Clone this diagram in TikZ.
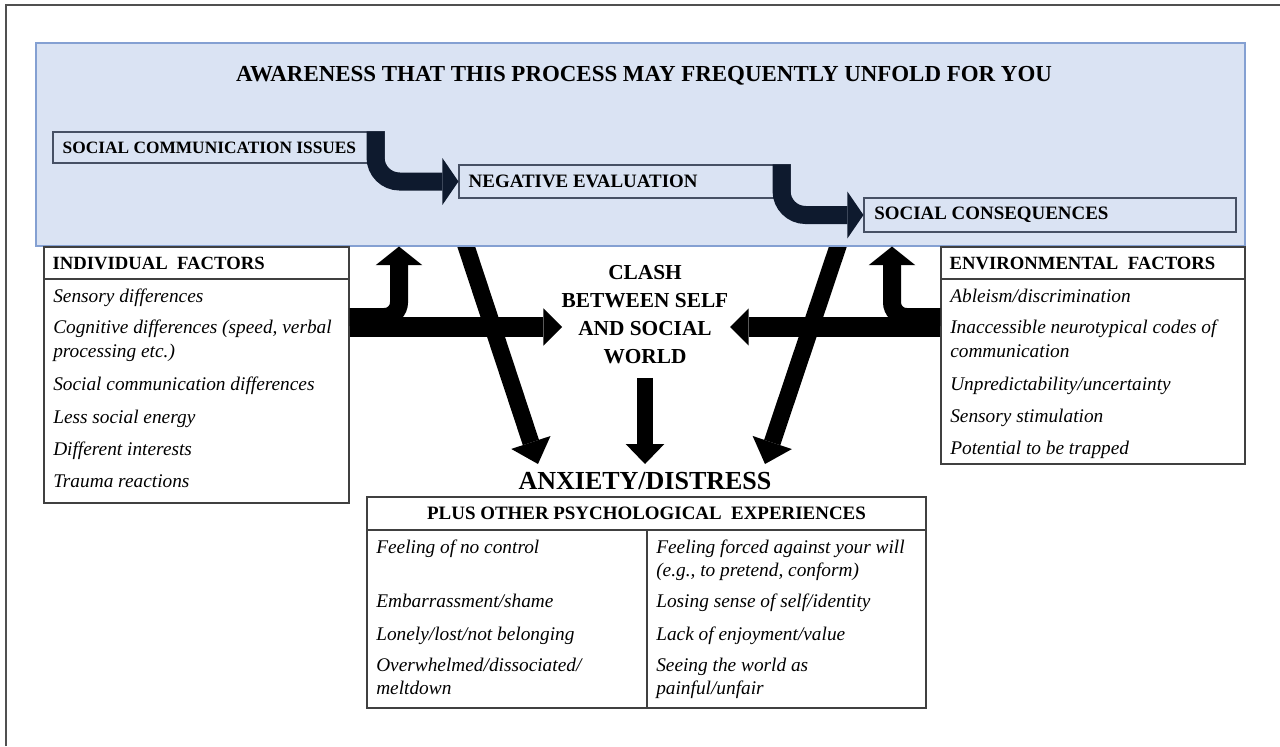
\documentclass[tikz,border=0pt]{standalone}
\usepackage{fontspec}
\setmainfont{Liberation Serif}
\usetikzlibrary{arrows.meta,fit,positioning}
\definecolor{awareblue}{RGB}{218,227,243}
\definecolor{awareline}{RGB}{132,160,210}
\definecolor{procline}{RGB}{70,80,100}
\definecolor{procnavy}{RGB}{14,26,46}
\definecolor{framegray}{RGB}{80,80,80}
\tikzset{
  awarebox/.style={draw=awareline,fill=awareblue,inner sep=0pt,line width=0.8pt},
  procbox/.style={draw=procline,fill=awareblue,inner sep=0pt,line width=0.8pt},
  listbox/.style={draw=black!75,fill=white,inner sep=0pt,line width=0.8pt},
  proclabel/.style={font=\fontsize{14.2}{16}\selectfont\bfseries,inner sep=0pt,anchor=west},
  caps/.style={font=\fontsize{14}{16}\selectfont\bfseries,inner sep=0pt},
  listitem/.style={font=\fontsize{14.5}{17}\selectfont\itshape,anchor=base west,inner sep=0pt},
  navyarrow/.style={procnavy,line width=13.5pt,rounded corners=18pt,
    -{Triangle[width=35pt,length=12pt,line width=0pt]}},
  mainarrow/.style={black,line width=15pt,-{Triangle[width=28pt,length=14pt,line width=0pt]}},
  brancharrow/.style={black,line width=13.5pt,rounded corners=11pt,
    -{Triangle[width=35pt,length=14pt,line width=0pt]}},
  diagarrow/.style={black,line width=12.75pt,-{Triangle[width=31pt,length=17pt,line width=0pt]}},
  downarrow/.style={black,line width=12.5pt,-{Triangle[width=29pt,length=15pt,line width=0pt]}}
}
\begin{document}
\begin{tikzpicture}[x=0.75pt,y=-0.75pt]
\useasboundingbox (0,0) rectangle (1280,746);
\draw[framegray,line width=1.5pt] (6,746) -- (6,5) -- (1280,5);
% the two long arrows start under the blue panel
\coordinate (evalfoot) at (462.7,236);
\coordinate (consfoot) at (841.4,236);
\coordinate (anxL) at (538,464);
\coordinate (anxR) at (765,464);
\draw[diagarrow] (evalfoot) -- (anxL);
\draw[diagarrow] (consfoot) -- (anxR);
% awareness panel
\node[awarebox,fit={(36,43) (1245,246)}] (aware) {};
\node[font=\fontsize{17.2}{20}\selectfont\bfseries] (title) at (644,76)
  {AWARENESS THAT THIS PROCESS MAY FREQUENTLY UNFOLD FOR YOU};
\node[procbox,fit={(53,132) (384,163)}] (sci) {};
\node[procbox,fit={(459,165) (790,198)}] (neg) {};
\node[procbox,fit={(864,198) (1236,232)}] (cons) {};
\node[proclabel,font=\fontsize{13}{15}\selectfont\bfseries] at ([xshift=7.5pt]sci.west) {SOCIAL COMMUNICATION ISSUES};
\node[proclabel] at ([xshift=7.5pt]neg.west) {NEGATIVE EVALUATION};
\node[proclabel] at ([xshift=8pt]cons.west) {SOCIAL CONSEQUENCES};
\draw[navyarrow] ([xshift=-6.75pt]sci.north east) |- (neg.west);
\draw[navyarrow] ([xshift=-6.75pt]neg.north east) |- (cons.west);
% factor boxes
\node[listbox,fit={(44,247) (349,279)}] (indhead) {};
\node[listbox,fit={(44,279) (349,503)}] (indbody) {};
\node[listbox,fit={(941,247) (1245,279)}] (envhead) {};
\node[listbox,fit={(941,279) (1245,464)}] (envbody) {};
\node[caps,anchor=west] at ([xshift=6.75pt]indhead.west) {INDIVIDUAL\ \ FACTORS};
\node[caps,anchor=west] at ([xshift=6.75pt]envhead.west) {ENVIRONMENTAL\ \ FACTORS};
\foreach \yy/\txt in {296/{Sensory differences},327/{Cognitive differences (speed, verbal},
    351/{processing etc.)},384/{Social communication differences},417/{Less social energy},
    449/{Different interests},481/{Trauma reactions}}
  \node[listitem] at (53,\yy+6) {\txt};
\foreach \yy/\txt in {296/{Ableism/discrimination},327/{Inaccessible neurotypical codes of},
    351/{communication},384/{Unpredictability/uncertainty},416/{Sensory stimulation},
    448/{Potential to be trapped}}
  \node[listitem] at (950,\yy+6) {\txt};
% clash in the middle
\node[font=\fontsize{16}{21}\selectfont\bfseries,align=center,inner sep=0pt] (clash) at (645,315)
  {CLASH\\BETWEEN SELF\\AND SOCIAL\\WORLD};
\coordinate (clashL) at (562,327);
\coordinate (clashR) at (730,327);
\draw[brancharrow] (indbody.east |- 0,317) -| (399,0 |- aware.south);
\draw[brancharrow] (envbody.west |- 0,317) -| (892,0 |- aware.south);
\draw[mainarrow] (indbody.east |- clashL) -- (clashL);
\draw[mainarrow] (envbody.west |- clashR) -- (clashR);
\node[font=\fontsize{19.5}{22}\selectfont\bfseries,inner sep=0pt] (anx) at (645,481) {ANXIETY/DISTRESS};
\draw[downarrow] ([yshift=-10pt]clash.south) -- ([yshift=6pt]anx.north);
% other experiences
\node[listbox,fit={(367,497) (926,530)}] (plushead) {};
\node[listbox,fit={(367,530) (926,708)}] (plusbody) {};
\draw[black!75,line width=0.8pt] (plusbody.north -| 647,0) -- (plusbody.south -| 647,0);
\node[caps,font=\fontsize{14.2}{16}\selectfont\bfseries] at (plushead) {PLUS OTHER PSYCHOLOGICAL\ \ EXPERIENCES};
\foreach \yy/\txt in {547/{Feeling of no control},601/{Embarrassment/shame},634/{Lonely/lost/not belonging},
    665/{Overwhelmed/dissociated/},688/{meltdown}}
  \node[listitem] at (376,\yy+6) {\txt};
\foreach \yy/\txt in {547/{Feeling forced against your will},570/{(e.g., to pretend, conform)},
    601/{Losing sense of self/identity},634/{Lack of enjoyment/value},665/{Seeing the world as},
    688/{painful/unfair}}
  \node[listitem] at (656,\yy+6) {\txt};
\end{tikzpicture}
\end{document}
